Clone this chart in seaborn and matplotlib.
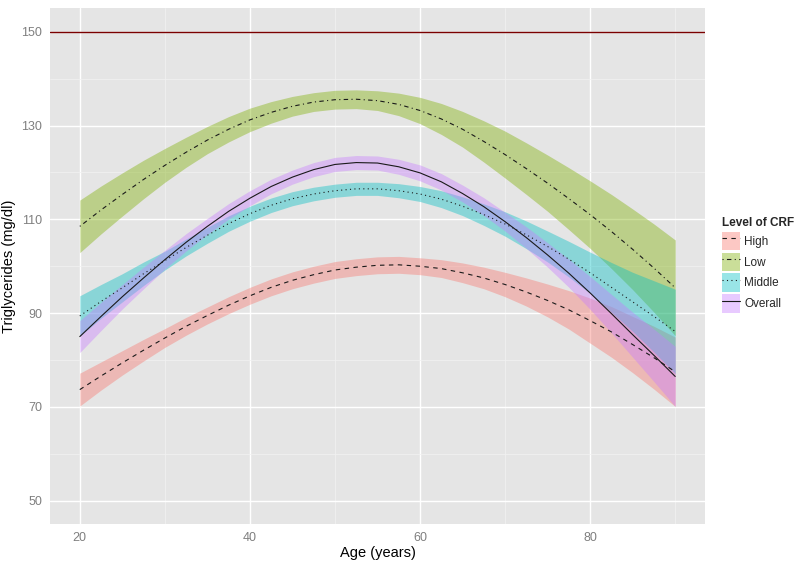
import numpy as np
import pandas as pd
import matplotlib
matplotlib.use("Agg")
import matplotlib.pyplot as plt
import seaborn as sns
from matplotlib.patches import Patch
from matplotlib.lines import Line2D
from matplotlib.ticker import MultipleLocator

age = [20, 22.5, 25, 27.5, 30, 32.5, 35, 37.5, 40, 42.5, 45, 47.5, 50, 52.5, 55,
       57.5, 60, 62.5, 65, 67.5, 70, 72.5, 75, 77.5, 80, 82.5, 85, 87.5, 90]

# fitted curve and half width of the confidence band, per CRF level
high_fit = [73.7, 76.6, 79.4, 82.1, 84.7, 87.2, 89.5, 91.7, 93.7, 95.5, 97.0, 98.2, 99.2, 99.8, 100.2,
            100.3, 100.0, 99.5, 98.6, 97.5, 96.1, 94.5, 92.7, 90.7, 88.4, 86.0, 83.3, 80.5, 77.5]
high_ci = [3.5, 3.0, 2.6, 2.3, 2.0, 1.9, 1.8, 1.8, 1.8, 1.8, 1.8, 1.8, 1.8, 1.8, 1.8,
           1.8, 1.8, 1.9, 2.1, 2.3, 2.6, 3.0, 3.5, 4.1, 4.8, 5.4, 6.0, 6.7, 7.4]

low_fit = [108.5, 112.0, 115.3, 118.5, 121.5, 124.3, 126.9, 129.2, 131.2, 132.8, 134.1, 135.0, 135.5, 135.6, 135.3,
           134.5, 133.2, 131.4, 129.2, 126.6, 123.8, 120.8, 117.7, 114.4, 111.0, 107.4, 103.6, 99.6, 95.4]
low_ci = [5.6, 5.1, 4.6, 4.1, 3.6, 3.2, 2.9, 2.7, 2.5, 2.3, 2.1, 2.0, 2.0, 2.0, 2.1,
          2.4, 2.8, 3.3, 3.8, 4.4, 5.0, 5.5, 6.0, 6.6, 7.2, 7.9, 8.6, 9.4, 10.2]

mid_fit = [89.4, 92.5, 95.4, 98.4, 101.2, 104.0, 106.6, 109.1, 111.2, 113.0, 114.4, 115.4, 116.1, 116.5, 116.5,
           116.1, 115.4, 114.3, 112.8, 111.0, 109.0, 106.7, 104.2, 101.5, 98.6, 95.5, 92.4, 89.3, 86.1]
mid_ci = [4.3, 3.6, 3.0, 2.5, 2.0, 1.8, 1.7, 1.65, 1.6, 1.55, 1.5, 1.45, 1.4, 1.4, 1.4,
          1.5, 1.6, 1.8, 2.0, 2.3, 2.6, 2.95, 3.3, 3.8, 4.4, 5.3, 6.3, 7.6, 9.0]

all_fit = [85.0, 89.3, 93.5, 97.5, 101.4, 105.1, 108.5, 111.7, 114.5, 117.0, 119.0, 120.6, 121.7, 122.1, 122.0,
           121.2, 119.9, 118.0, 115.5, 112.7, 109.5, 106.1, 102.4, 98.5, 94.3, 89.9, 85.4, 81.0, 76.5]
all_ci = [3.4, 3.0, 2.6, 2.3, 2.0, 1.85, 1.7, 1.65, 1.6, 1.55, 1.5, 1.5, 1.5, 1.5, 1.5,
          1.6, 1.7, 1.75, 1.8, 1.9, 2.0, 2.3, 2.6, 3.0, 3.5, 4.1, 4.8, 5.6, 6.4]

levels = ["High", "Low", "Middle", "Overall"]
reference_line = 150

sns.set_theme(style="darkgrid")
plt.rcParams["font.family"] = ["Liberation Sans", "DejaVu Sans"]

colors = {"High": "#F8766D", "Low": "#7CAE00", "Middle": "#00BFC4", "Overall": "#C77CFF"}
dashes = {"High": (4, 4), "Low": (1, 3, 4, 3), "Middle": (1, 3), "Overall": ""}

curves = {
    "High": (high_fit, high_ci),
    "Low": (low_fit, low_ci),
    "Middle": (mid_fit, mid_ci),
    "Overall": (all_fit, all_ci),
}

# long format for seaborn
rows = []
for lvl in levels:
    fit, ci = curves[lvl]
    for a, f, c in zip(age, fit, ci):
        rows.append({"age": a, "tg": f, "lo": f - c, "hi": f + c, "level": lvl})
df = pd.DataFrame(rows)

fig = plt.figure(figsize=(7.97, 5.66), dpi=100)
ax = fig.add_axes([50 / 797, 42 / 566, 655 / 797, 516 / 566])
ax.set_facecolor("#E5E5E5")

# ribbons first, then the lines on top
for lvl in levels:
    d = df[df["level"] == lvl]
    ax.fill_between(d["age"], d["lo"], d["hi"], color=colors[lvl], alpha=0.4, linewidth=0)

sns.lineplot(data=df, x="age", y="tg", style="level", style_order=levels,
             dashes=dashes, color="#1a1a1a", linewidth=0.8, legend=False, ax=ax)

ax.axhline(reference_line, color="#7A0000", linewidth=1.0)

ax.set_xlim(16.5, 93.5)
ax.set_ylim(45.05, 155.05)
ax.xaxis.set_major_locator(MultipleLocator(20))
ax.xaxis.set_minor_locator(MultipleLocator(10))
ax.set_yticks([50, 70, 90, 110, 130, 150])
ax.set_yticks([60, 80, 100, 120, 140], minor=True)
ax.grid(which="major", color="white", linewidth=1.0)
ax.grid(which="minor", color="#F2F2F2", linewidth=0.5)
for s in ax.spines.values():
    s.set_visible(False)
ax.tick_params(axis="both", which="major", length=3.5, width=0.8, color="#7F7F7F",
               labelcolor="#7F7F7F", labelsize=9, pad=2)
ax.tick_params(axis="both", which="minor", length=0)

ax.set_xlabel("Age (years)", fontsize=10.5, color="black", labelpad=2)
ax.set_ylabel("Triglycerides (mg/dl)", fontsize=10.5, color="black", labelpad=4)

handles = []
for lvl in levels:
    p = Patch(facecolor=colors[lvl], alpha=0.4, edgecolor="none")
    if dashes[lvl]:
        ln = Line2D([0], [0], color="#1a1a1a", linewidth=0.8, dashes=dashes[lvl])
    else:
        ln = Line2D([0], [0], color="#1a1a1a", linewidth=0.8)
    handles.append((p, ln))

leg = fig.legend(handles, levels, title="Level of CRF", loc="center left",
                 bbox_to_anchor=(722 / 797, 0.532), frameon=False, fontsize=8.5,
                 title_fontsize=8.5, handlelength=1.5, handleheight=2.0,
                 handletextpad=0.4, labelspacing=0.22, borderpad=0, borderaxespad=0)
leg.get_title().set_fontweight("bold")
leg._legend_box.align = "left"

fig.savefig("out.png", dpi=100)
